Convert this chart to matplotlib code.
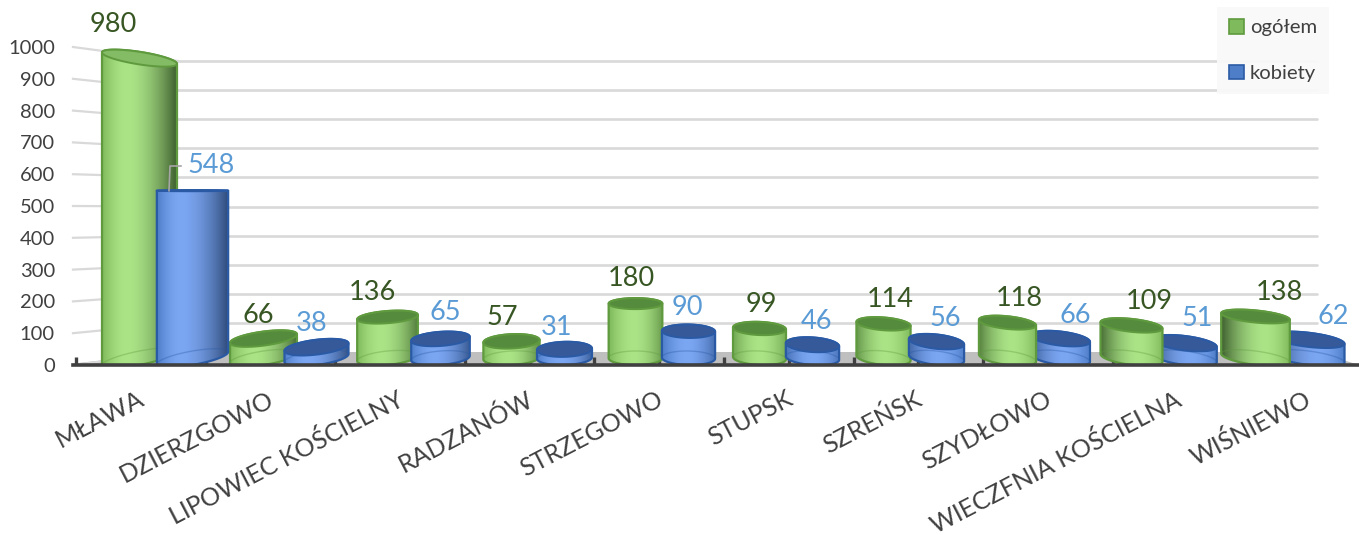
import numpy as np
import matplotlib
matplotlib.use("Agg")
import matplotlib.pyplot as plt
from matplotlib.path import Path
from matplotlib.patches import PathPatch, Patch, Polygon
from matplotlib.colors import to_rgb

categories = ["MŁAWA", "DZIERZGOWO", "LIPOWIEC KOŚCIELNY", "RADZANÓW", "STRZEGOWO",
              "STUPSK", "SZREŃSK", "SZYDŁOWO", "WIECZFNIA KOŚCIELNA", "WIŚNIEWO"]
ogolem = [980, 66, 136, 57, 180, 99, 114, 118, 109, 138]
kobiety = [548, 38, 65, 31, 90, 46, 56, 66, 51, 62]
y_ticks = [0, 100, 200, 300, 400, 500, 600, 700, 800, 900, 1000]
series_names = ["ogółem", "kobiety"]

# ---- layout / style -------------------------------------------------------
W, H = 1359, 535
FONT = "Lato"
plt.rcParams["font.family"] = [FONT, "DejaVu Sans"]
GX0, GSTEP = 139.5, 124.0      # pixel x of first bar, pixels per category
Y0, YS = 365.0, 0.318          # pixel y of zero, pixels per unit
EYE, CXV = 190.0, 640.0        # perspective centre of the 3-D view
SERIES_DX = 53.0 / GSTEP

green_label_dx = [-26, -5, -15, -9, -4, 2, 7, 12, 18, 24]
blue_label_dx = [19, -5, 5, -8, -1, 4, 9, 15, 13, 25]
blue_label_dy = [25, 29, 32, 28, 29, 29, 29, 29, 30, 29]

GREEN = dict(light="#ABE487", base="#7FBA5C", dark="#3F6030", top="#558B3C", edge="#5F9A3E")
BLUE = dict(light="#7BA6F2", base="#4F7EC9", dark="#2F4A78", top="#36599A", edge="#2B5AA5")

fig = plt.figure(figsize=(W / 100, H / 100), dpi=100)
ax = fig.add_axes([73 / W, 1 - Y0 / H, 1 - 73 / W, (Y0 - 47) / H])
xlim = ((73 - GX0) / GSTEP, (W - GX0) / GSTEP)
ax.set_xlim(*xlim)
ax.set_ylim(0, 1000)
for s in ("top", "right", "left"):
    ax.spines[s].set_visible(False)
ax.spines["bottom"].set_color("#404040")
ax.spines["bottom"].set_linewidth(2.6)
ax.spines["bottom"].set_zorder(8)

px2x = lambda p: (p - GX0) / GSTEP
px2y = lambda p: (Y0 - p) / YS
back = lambda v: px2y(352 - 0.291 * v)

# floor
ax.add_patch(Polygon([(px2x(60), 0), (px2x(178), back(0)), (px2x(1318), back(0)), (px2x(W), 0)],
                     closed=True, fc="#BFBFBF", ec="none", zorder=0.5))
# gridlines on back wall and left wall
for v in y_ticks[1:]:
    ax.plot([px2x(178), px2x(1317)], [back(v), back(v)], color="#D9D9D9", lw=1.9, zorder=1,
            solid_capstyle="round")
    ax.plot([px2x(73), px2x(178)], [v, back(v)], color="#D9D9D9", lw=1.6, zorder=1, clip_on=False)
ax.plot([px2x(73), px2x(178)], [0, back(0)], color="#D9D9D9", lw=1.6, zorder=1)


def width_px(cx):
    return 53.0 + 0.00006 * (cx - 745.0) ** 2


def ellipse(cx, cy, w, h, n=80, a=0.0, b=2 * np.pi):
    t = np.linspace(a, b, n)
    dx = w / 2 * np.cos(t)
    slope = 2.3e-6 * (np.clip(cx - CXV, -520, 330)) * (cy - EYE)
    dy = h / 2 * np.sin(t) + slope * dx
    return cx + dx, cy + dy


def mix(c1, c2, t):
    a, b = np.array(to_rgb(c1)), np.array(to_rgb(c2))
    return a + (b - a) * t


def cylinder(i, xd, value, pal, z, rect):
    cx = GX0 + xd * GSTEP
    w = width_px(cx)
    py = Y0 - value * YS
    dy = py - EYE
    cy = py - 0.035 * dy
    h_top = 0.085 * abs(dy) + 1
    by, h_bot = 358.0, 14.0
    # outline in pixels (top arc over the upper half, bottom arc along the lower half)
    tx, ty = ellipse(cx, cy, w, h_top, a=np.pi, b=2 * np.pi)
    bx_, by_ = ellipse(cx, by, w, h_bot, a=0.0, b=np.pi)
    xs = np.r_[tx, bx_]
    ys = np.r_[ty, by_]
    body = np.c_[px2x(xs), px2y(ys)]
    path = Path(np.r_[body, body[:1]], closed=True)
    clip = PathPatch(path, transform=ax.transData, fc="none", ec="none")
    ax.add_patch(clip)
    rect.set_clip_path(clip)
    # horizontal shading depends on where the bar sits in the view
    hl = 0.33 + 0.034 * i
    dl = np.clip((i - 4) / 5, 0, 1)
    dr = np.clip((6 - i) / 6, 0, 1)
    tt = np.linspace(0, 1, 64)
    col = np.zeros((1, 64, 3))
    left = mix(pal["base"], pal["dark"], dl)
    right = mix(pal["base"], pal["dark"], dr)
    for k, t in enumerate(tt):
        if t < hl:
            col[0, k] = mix(pal["light"], left, ((hl - t) / hl) ** 1.8)
        else:
            col[0, k] = mix(pal["light"], right, ((t - hl) / (1 - hl)) ** 1.8)
    ymin, ymax = px2y(ys.max() + 1), px2y(ys.min() - 1)
    im = ax.imshow(col, extent=(px2x(cx - w / 2), px2x(cx + w / 2), ymin, ymax),
                   aspect="auto", zorder=z, interpolation="bilinear")
    im.set_clip_path(clip)
    ax.add_patch(PathPatch(path, fc="none", ec=pal["edge"], lw=1.6, zorder=z + 0.1))
    # faint inner arc of the base
    ax_, ay_ = ellipse(cx, by, w, h_bot, a=np.pi, b=2 * np.pi)
    ax.plot(px2x(ax_), px2y(ay_), color=pal["edge"], lw=1, alpha=0.35, zorder=z + 0.1)
    # top face: tall bars are seen nearly edge-on and look lighter
    ex, ey = ellipse(cx, cy, w, h_top)
    face = mix(pal["top"], pal["light"], 0.55) if py < 150 else pal["top"]
    ax.add_patch(Polygon(np.c_[px2x(ex), px2y(ey)], closed=True, fc=face, ec=pal["edge"],
                         lw=1.4, zorder=z + 0.2))


x_green = np.arange(len(categories), dtype=float)
x_blue = x_green + SERIES_DX
bars_g = ax.bar(x_green, ogolem, width=0.45, color=GREEN["base"], zorder=2)
bars_b = ax.bar(x_blue, kobiety, width=0.43, color=BLUE["base"], zorder=2)

for i in range(len(categories)):
    zg, zb = (3, 4) if i <= 6 else (4, 3)
    cylinder(i, x_green[i], ogolem[i], GREEN, zg, bars_g[i])
    cylinder(i, x_blue[i], kobiety[i], BLUE, zb, bars_b[i])
ax.set_xlim(*xlim)
ax.set_ylim(0, 1000)

# data labels
for i in range(len(categories)):
    ax.annotate(str(ogolem[i]), (x_green[i], ogolem[i]),
                xytext=(green_label_dx[i] * 0.72, 29 * 0.72), textcoords="offset points",
                ha="center", va="center", fontsize=19.5, color="#375623", zorder=9, annotation_clip=False)
    ax.annotate(str(kobiety[i]), (x_blue[i], kobiety[i]),
                xytext=(blue_label_dx[i] * 0.72, blue_label_dy[i] * 0.72), textcoords="offset points",
                ha="center", va="center", fontsize=19.5, color="#5B9BD5", zorder=9, annotation_clip=False)
# leader line of the 548 label
ax.plot([px2x(169), px2x(170), px2x(181)], [kobiety[0], px2y(166), px2y(166)],
        color="#A6A6A6", lw=1.2, zorder=4.5)

# axes ticks and labels
ax.set_yticks(y_ticks)
ax.tick_params(axis="y", length=0, pad=13, labelsize=14.5, labelcolor="#404040")
cat_x = [px2x(137.5 + 129.6 * k) for k in range(len(categories))]
ax.set_xticks(cat_x)
ax.set_xticklabels(categories, rotation=27.5, ha="right", va="top", rotation_mode="anchor",
                   fontsize=18.0, color="#404040")
ax.tick_params(axis="x", which="major", length=0, pad=16)
ax.set_xticks([px2x(76 + 64.8 * k) for k in range(20)], minor=True)
ax.tick_params(axis="x", which="minor", direction="in", length=6, width=2.4, color="#404040")
for t in ax.xaxis.get_minorticklines():
    t.set_zorder(8)

leg = fig.legend(handles=[Patch(fc=GREEN["base"], ec=GREEN["edge"], lw=1.2, label=series_names[0]),
                          Patch(fc=BLUE["base"], ec=BLUE["edge"], lw=1.2, label=series_names[1])],
                 loc="upper right", bbox_to_anchor=(1329 / W, 1 - 7 / H), frameon=True,
                 facecolor="#F9F9F9", edgecolor="none", framealpha=0.95, fancybox=False,
                 fontsize=14.6, labelcolor="#404040", handlelength=0.72, handleheight=0.72,
                 handletextpad=0.3, labelspacing=1.4, borderpad=0.6, borderaxespad=0)

fig.savefig("out.png", dpi=100)
